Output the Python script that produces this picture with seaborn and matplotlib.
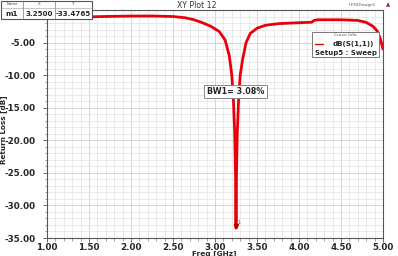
import numpy as np
import matplotlib
matplotlib.use("Agg")
import matplotlib.pyplot as plt
import seaborn as sns
from matplotlib.patches import Rectangle
from matplotlib.lines import Line2D
from matplotlib.ticker import MultipleLocator, FormatStrFormatter

# S11 curve (GHz, dB)
freq = [1.00, 1.25, 1.50, 1.75, 2.00, 2.25, 2.50, 2.65, 2.75, 2.85, 2.95,
        3.05, 3.12, 3.17, 3.20, 3.22, 3.235, 3.245, 3.25, 3.255, 3.265,
        3.28, 3.30, 3.33, 3.37, 3.42, 3.50, 3.60, 3.75, 4.00, 4.15, 4.18,
        4.22, 4.50, 4.70, 4.80, 4.88, 4.93, 4.97, 5.00]
s11_db = [-1.25, -1.15, -1.05, -0.98, -0.93, -0.92, -1.00, -1.20, -1.50, -1.95, -2.5,
          -3.3, -4.6, -7.0, -10.0, -14.0, -19.0, -26.0, -33.48, -26.0, -19.0,
          -14.0, -10.0, -7.5, -5.0, -3.6, -2.8, -2.35, -2.1, -1.95, -1.88, -1.6,
          -1.5, -1.5, -1.6, -1.9, -2.5, -3.2, -4.5, -6.0]

x_ticks = [1.0, 1.5, 2.0, 2.5, 3.0, 3.5, 4.0, 4.5, 5.0]
y_ticks = [-35, -30, -25, -20, -15, -10, -5]

marker_name = "m1"
marker_x = 3.25
marker_y = -33.4765
bw_text = "BW1= 3.08%"

W, H = 398, 256
sns.set_style("white")
plt.rcParams['font.family'] = ['DejaVu Sans']
fig = plt.figure(figsize=(W / 100, H / 100), dpi=100)
ax = fig.add_axes([47 / W, 1 - 238 / H, (383 - 47) / W, (238 - 10) / H])

sns.lineplot(x=freq, y=s11_db, color="#e8000b", linewidth=2.0, ax=ax)

ax.set_xlim(1.0, 5.0)
ax.set_ylim(-35, 0)
ax.set_xticks(x_ticks)
ax.set_yticks(y_ticks)
ax.xaxis.set_major_formatter(FormatStrFormatter("%.2f"))
ax.yaxis.set_major_formatter(FormatStrFormatter("%.2f"))
ax.xaxis.set_minor_locator(MultipleLocator(0.1))
ax.yaxis.set_minor_locator(MultipleLocator(1))
ax.grid(True, which="major", color="#cfcfcf", linewidth=0.6)
ax.grid(True, which="minor", color="#e2e2e2", linewidth=0.5)
ax.set_axisbelow(True)
for s in ax.spines.values():
    s.set_color("#555555")
    s.set_linewidth(0.8)
ax.tick_params(axis="both", which="major", labelsize=6.3, length=3, width=0.6,
               color="#555555", direction="out")
ax.tick_params(axis="y", which="major", pad=5)
ax.tick_params(axis="x", which="major", pad=0.3)
ax.tick_params(axis="both", which="minor", length=1.8, width=0.5, color="#777777",
               direction="out")
ax.tick_params(left=True, bottom=True, which="both")
for lab in ax.get_xticklabels() + ax.get_yticklabels():
    lab.set_fontweight("bold")
ax.set_xlabel("Freq [GHz]", fontsize=5.3, fontweight="bold", va="top")
ax.set_ylabel("Return Loss [dB]", fontsize=5.2, fontweight="bold")
ax.xaxis.set_label_coords((214 - 47) / 336, -(250.2 - 238) / 228)
ax.yaxis.set_label_coords((7 - 47) / 336, (238 - 130) / 228)

# marker at the minimum
ax.plot([marker_x], [marker_y + 0.3], marker="v", color="#b00000", markersize=3)
ax.text(marker_x + 0.02, marker_y + 0.6, "1", fontsize=3.5, color="#555555")

# BW annotation
ax.text(3.244, -12.5, bw_text, fontsize=5.8, fontweight="bold", ha="center", va="center",
        bbox=dict(boxstyle="square,pad=0.3", fc="white", ec="#888888", lw=0.7))

fx = lambda px: px / W
fy = lambda py: 1 - py / H

# curve info box
fig.add_artist(Rectangle((fx(312), fy(57)), fx(379) - fx(312), fy(32) - fy(57),
                         transform=fig.transFigure, fc="white", ec="#777777", lw=0.7,
                         zorder=5))
fig.text(fx(345), fy(35.5), "Curve Info", fontsize=3.2, ha="center", va="center",
         color="#555555", zorder=6)
fig.add_artist(Line2D([fx(315), fx(323)], [fy(44), fy(44)], transform=fig.transFigure,
                      color="#e8000b", lw=1.0, zorder=6))
fig.text(fx(374), fy(44.3), "dB(S(1,1))", fontsize=5.1, fontweight="bold", ha="right",
         va="center", zorder=6)
fig.text(fx(377), fy(52.5), "Setup5 : Sweep", fontsize=5.0, fontweight="bold",
         ha="right", va="center", zorder=6)

# marker table (top left)
fig.add_artist(Rectangle((fx(0.5), fy(19)), fx(92) - fx(0.5), fy(0.5) - fy(19),
                         transform=fig.transFigure, fc="white", ec="#555555", lw=0.8,
                         zorder=5))
for xv in (23, 55):
    fig.add_artist(Line2D([fx(xv), fx(xv)], [fy(19), fy(0.5)], transform=fig.transFigure,
                          color="#777777", lw=0.5, zorder=6))
fig.add_artist(Line2D([fx(0.5), fx(92)], [fy(8), fy(8)], transform=fig.transFigure,
                      color="#999999", lw=0.4, zorder=6))
for xc, t in ((12, "Name"), (39, "X"), (73, "Y")):
    fig.text(fx(xc), fy(4.2), t, fontsize=2.8, ha="center", va="center", color="#444444",
             zorder=7)
for xc, t in ((12, marker_name), (39, f"{marker_x:.4f}"), (73.5, f"{marker_y:.4f}")):
    fig.text(fx(xc), fy(14.5), t, fontsize=5.1, fontweight="bold", ha="center",
             va="center", zorder=7)

fig.text(fx(197), fy(5), "XY Plot 12", fontsize=5.6, ha="center", va="center",
         color="#333333")
fig.text(fx(362), fy(5), "HFSSDesign1", fontsize=3.0, ha="center", va="center",
         color="#555555")
fig.text(fx(388), fy(5), "\u25b2", fontsize=4.0, ha="center", va="center", color="#9a3030")

fig.savefig("out.png", dpi=100)
